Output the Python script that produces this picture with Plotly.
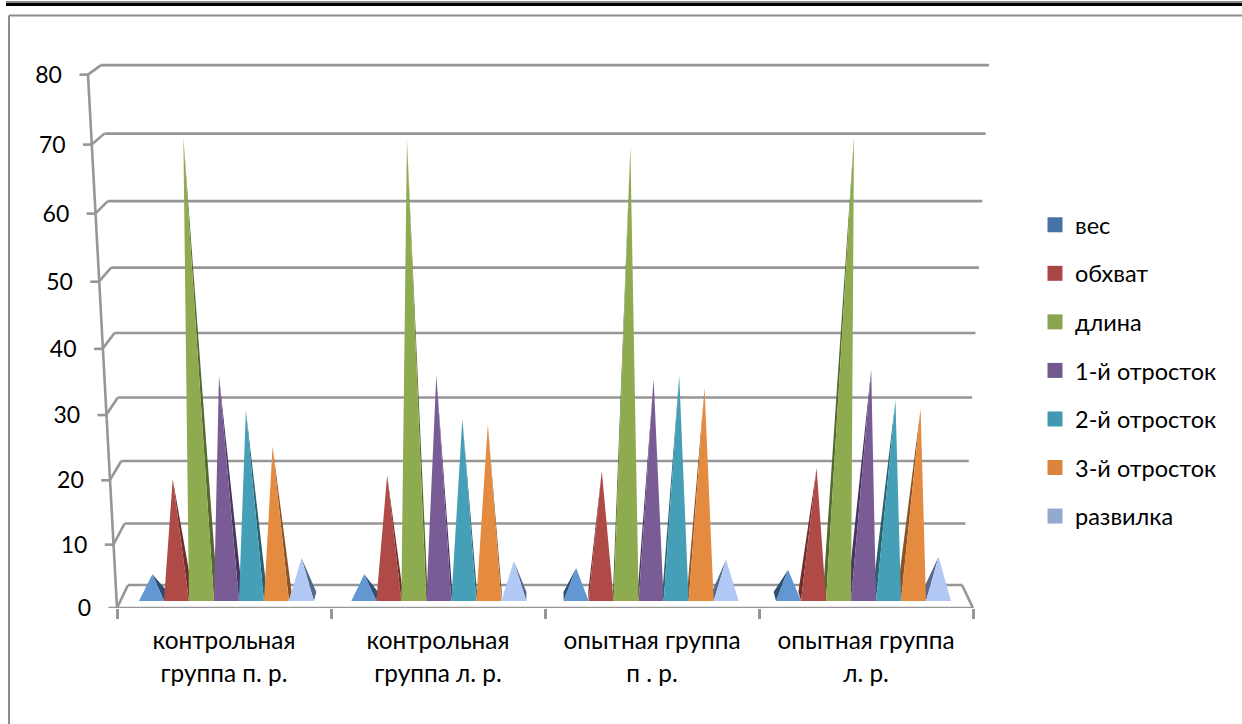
import plotly.graph_objects as go

categories = ["контрольная<br>группа п. р.", "контрольная<br>группа л. р.", "опытная группа<br>п . р.", "опытная группа<br>л. р."]
series_names = ["вес", "обхват", "длина", "1-й отросток", "2-й отросток", "3-й отросток", "развилка"]
ves = [3.6, 3.6, 4.6, 4.3]
obhvat = [18.7, 19.3, 20.0, 20.4]
dlina = [70.2, 69.9, 68.9, 70.3]
otr1 = [34.7, 34.8, 34.2, 35.6]
otr2 = [29.4, 28.1, 34.7, 30.9]
otr3 = [23.8, 27.2, 32.8, 29.6]
razvilka = [6.2, 5.7, 5.9, 6.4]
series_values = [ves, obhvat, dlina, otr1, otr2, otr3, razvilka]
y_ticks = [0, 10, 20, 30, 40, 50, 60, 70, 80]

legend_colors = ["#4572A7", "#AA4643", "#89A54E", "#71588F", "#4198AF", "#DB843D", "#93A9CF"]
front_colors = ["#6297D2", "#AF4A47", "#8FAB50", "#795C96", "#45A0B7", "#E48B40", "#B2C9F5"]
side_colors = ["#2F4F70", "#6E2E2C", "#55682F", "#453560", "#2A6070", "#8A5426", "#56698A"]
grid_color = "#969696"
FONT = "Lato, Carlito, 'Noto Sans', sans-serif"


def proj(u, v, d):
    """Perspective of the box: category position u, value v, depth d (0 front, 1 back)."""
    hw = (1 + 0.0678 * v / 80) * (1 - d) + (0.9743 + 0.0631 * v / 80) * d
    x = 2 + (u - 2) * hw
    yf = 0.946 * v + 0.000707 * v * v
    yb = 3.46 + 0.917 * v + 0.000752 * v * v
    return x, yf * (1 - d) + yb * d


def segs(pairs):
    xs, ys = [], []
    for a, b in pairs:
        xs += [a[0], b[0], None]
        ys += [a[1], b[1], None]
    return xs, ys


fig = go.Figure()

# walls, floor and slanted value axis
pairs = []
for t in y_ticks:
    pairs.append((proj(0, t, 1), proj(4, t, 1)))
    pairs.append((proj(0, t, 0), proj(0, t, 1)))
    tick = proj(0, t, 0)
    pairs.append(((tick[0] - 0.04, tick[1]), tick))
pairs.append((proj(0, 0, 0), proj(0, 80, 0)))
pairs.append((proj(4, 0, 0), proj(4, 0, 1)))
pairs.append((proj(0, 0, 0), proj(4, 0, 0)))
gx, gy = segs(pairs)
fig.add_trace(go.Scatter(x=gx, y=gy, mode="lines", line=dict(color=grid_color, width=2.6),
                         showlegend=False, hoverinfo="skip", cliponaxis=False))

# value axis labels follow the slanted axis
lab = [proj(0, t, 0) for t in y_ticks]
fig.add_trace(go.Scatter(x=[p[0] - 0.1215 for p in lab], y=[p[1] + 1.4 for p in lab],
                         text=[str(t) for t in y_ticks], mode="text", textposition="bottom left",
                         textfont=dict(family=FONT, size=23, color="#000"),
                         showlegend=False, hoverinfo="skip", cliponaxis=False))

GAP = 0.088
BAR = 0.1177
D_FRONT, D_APEX, D_BACK = 0.3, 0.5, 0.7


def pyramid_parts(s):
    fx, fy, sx, sy = [], [], [], []
    for c, val in enumerate(series_values[s]):
        u0 = c + GAP + s * BAR
        u1 = u0 + BAR
        um = (u0 + u1) / 2
        a = proj(um, val, D_APEX)
        l = proj(u0, 0, D_FRONT)
        r = proj(u1, 0, D_FRONT)
        fx += [l[0], a[0], r[0], l[0], None]
        fy += [l[1], a[1], r[1], l[1], None]
        # visible side face turns toward the centre of the chart
        ue = u1 if c < 2 else u0
        e = proj(ue, 0, D_FRONT)
        b = proj(ue, 0, D_BACK)
        sx += [e[0], a[0], b[0], e[0], None]
        sy += [e[1], a[1], b[1], e[1], None]
    return fx, fy, sx, sy


parts = [pyramid_parts(s) for s in range(7)]
for s, name in enumerate(series_names):
    fig.add_trace(go.Scatter(x=parts[s][2], y=parts[s][3], mode="lines", fill="toself",
                             fillcolor=side_colors[s], line=dict(width=0), name=name,
                             legendgroup=name, showlegend=False, hoverinfo="skip", cliponaxis=False))
for s, name in enumerate(series_names):
    fig.add_trace(go.Scatter(x=parts[s][0], y=parts[s][1], mode="lines", fill="toself",
                             fillcolor=front_colors[s], line=dict(width=0), name=name,
                             legendgroup=name, showlegend=False, hoverinfo="skip", cliponaxis=False))
for s, name in enumerate(series_names):
    fig.add_trace(go.Scatter(x=[None], y=[None], mode="markers", name=name, legendgroup=name,
                             marker=dict(symbol="square", size=15, color=legend_colors[s]),
                             showlegend=True))

L0, R0, BOT = 117, 973, 608
W, H = 1242, 724
UNIT = (R0 - L0) / 4


def px(xp):
    return xp / W


def py(yp):
    return (BOT - yp) / BOT


shapes = [
    dict(type="line", xref="paper", yref="paper", x0=px(6), x1=px(1242), y0=py(2), y1=py(2), line=dict(color="#8c8c8c", width=2)),
    dict(type="line", xref="paper", yref="paper", x0=px(6), x1=px(1242), y0=py(4.5), y1=py(4.5), line=dict(color="#000", width=3)),
    dict(type="line", xref="paper", yref="paper", x0=px(9), x1=px(1242), y0=py(15.5), y1=py(15.5), line=dict(color="#8c8c8c", width=2)),
    dict(type="line", xref="paper", yref="paper", x0=px(9), x1=px(9), y0=py(15.5), y1=py(724), line=dict(color="#8c8c8c", width=2)),
]

fig.update_layout(
    width=W, height=H, autosize=False,
    margin=dict(l=0, r=0, t=0, b=H - BOT, pad=0),
    paper_bgcolor="white", plot_bgcolor="white",
    font=dict(family=FONT, size=24, color="#000"),
    xaxis=dict(range=[-L0 / UNIT, (W - L0) / UNIT], tickmode="array", tickvals=[0.5, 1.5, 2.5, 3.5],
               ticktext=[f'<span style="font-size:24.4px">{c}</span>' for c in categories],
               tickfont=dict(family=FONT, size=25.4, color="#000"), showgrid=False, zeroline=False,
               showline=False, ticks="", ticklabelstandoff=15, tickangle=0, fixedrange=True,
               minor=dict(tickmode="array", tickvals=[0, 1, 2, 3, 4], ticks="outside", ticklen=10,
                          tickcolor=grid_color, tickwidth=2.5, showgrid=False)),
    yaxis=dict(range=[0, BOT / 6.65], visible=False, fixedrange=True),
    legend=dict(x=px(1035), y=py(203), xanchor="left", yanchor="top", tracegroupgap=15,
                itemwidth=30, font=dict(family=FONT, size=23.5, color="#000"),
                bgcolor="rgba(0,0,0,0)"),
    shapes=shapes,
)

fig.write_html("out.html", config={"displayModeBar": False},
               post_script="document.body.style.margin='0';")
